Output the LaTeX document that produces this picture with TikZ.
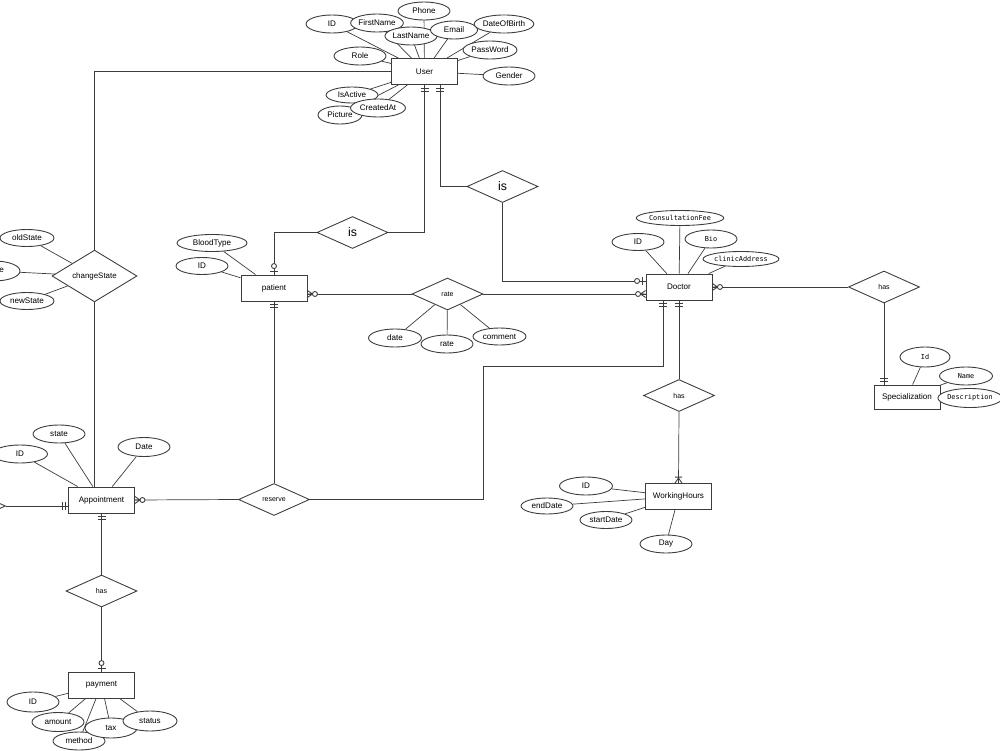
\documentclass[tikz,border=0pt]{standalone}
\usepackage{fontspec}
\setmainfont{Liberation Sans}
\newfontfamily\codefont{DejaVu Sans Mono}
\usepackage{xcolor}
\usetikzlibrary{shapes.geometric, positioning, backgrounds, calc}
\definecolor{linegray}{RGB}{60,60,60}

\tikzset{
  twobar/.pic={\draw[linegray] (-3,-4) -- (-3,4) (-6,-4) -- (-6,4);},
  zeroone/.pic={\draw[linegray] (-3.5,-4) -- (-3.5,4); \draw[linegray, fill=white] (-8.5,0) circle[radius=0.5mm];},
  zeromany/.pic={\draw[linegray] (0,-3.5) -- (-5,0) -- (0,3.5) (0,0) -- (-5,0); \draw[linegray, fill=white] (-7.5,0) circle[radius=0.5mm];},
  onemany/.pic={\draw[linegray] (0,-3.5) -- (-5,0) -- (0,3.5) (0,0) -- (-5,0) (-6,-3.5) -- (-6,3.5);}
}

\begin{document}
\begin{tikzpicture}[
    x=0.2mm, y=-0.2mm, line width=0.5pt,
    ent/.style={rectangle, draw=linegray, fill=white, minimum width=13.2mm, minimum height=5.2mm, inner sep=0pt, font=\fontsize{4.6}{5}\selectfont},
    attr/.style={ellipse, draw=linegray, fill=white, minimum width=10.4mm, minimum height=3.6mm, inner sep=0pt, font=\fontsize{4.6}{5}\selectfont},
    mono/.style={attr, font=\codefont\fontsize{3.9}{4.5}\selectfont},
    rel/.style={diamond, draw=linegray, fill=white, minimum width=14.2mm, minimum height=6.4mm, inner sep=0pt, font=\fontsize{4}{5}\selectfont},
    isrel/.style={rel, font=\fontsize{7}{8}\selectfont},
    conn/.style={draw=linegray}
]
\useasboundingbox (0,0) rectangle (1000,750);
\clip (0,0) rectangle (1000,750);

\node[ent] (user) at (424.5,71.5) {User};
\node[ent] (pat) at (274,288) {patient};
\node[ent] (doc) at (679,287) {Doctor};
\node[ent, minimum height=4.8mm] (spec) at (907,397) {Specialization};
\node[ent] (wh) at (678.5,496.5) {WorkingHours};
\node[ent] (appt) at (101.5,500) {Appointment};
\node[ent] (pay) at (101.5,685) {payment};

\node[isrel] (is1) at (352.5,232.5) {is};
\node[isrel] (is2) at (502.5,186.5) {is};
\node[rel] (rate) at (447.5,294) {rate};
\node[rel] (has1) at (884,287) {has};
\node[rel] (has2) at (679,395.5) {has};
\node[rel] (res) at (274,499.5) {reserve};
\node[rel, minimum width=17mm, minimum height=7.2mm, font=\fontsize{4.5}{5}\selectfont] (chg) at (94.5,276) {changeState};
\node[rel] (has3) at (101.5,591) {has};
\node[rel] (ext) at (-30,506) {};

\node[attr] (phone) at (424,11) {Phone};
\node[attr] (uid) at (332,24) {ID};
\node[attr] (ufn) at (377,23) {FirstName};
\node[attr] (uln) at (411,36) {LastName};
\node[attr, minimum width=9.4mm] (uem) at (454,30) {Email};
\node[attr] (udob) at (504,24) {DateOfBirth};
\node[attr, minimum width=10.8mm] (upw) at (490,50) {PassWord};
\node[attr] (urole) at (360,56) {Role};
\node[attr] (ugen) at (509,76) {Gender};
\node[attr, minimum width=8.8mm] (upic) at (340,115) {Picture};
\node[attr, minimum height=3.2mm] (uact) at (352,95) {IsActive};
\node[attr, minimum width=11mm] (ucrt) at (378,108) {CreatedAt};

\node[attr, minimum width=14mm, minimum height=3.4mm] (pbt) at (212,243) {BloodType};
\node[attr, minimum height=3.4mm] (pid) at (202,266) {ID};

\node[attr, minimum width=10.6mm] (rdate) at (395,338) {date};
\node[attr] (rrate) at (447,344) {rate};
\node[attr, minimum width=10.6mm, minimum height=3.4mm] (rcom) at (499.5,336.5) {comment};

\node[attr, minimum height=3.4mm] (did) at (638,242) {ID};
\node[mono, minimum width=14mm, minimum height=3mm] (dfee) at (680,218) {ConsultationFee};
\node[mono] (dbio) at (711,239) {Bio};
\node[mono, minimum width=14.4mm, minimum height=3mm] (daddr) at (741,259) {clinicAddress};

\node[mono, minimum width=10mm, minimum height=4mm] (sid) at (925,357) {Id};
\node[mono, minimum width=10.6mm] (sname) at (966,376) {Name};
\node[mono, minimum width=11.2mm, minimum height=3.8mm] (sdesc) at (970,398) {Description};

\node[attr, minimum width=10.6mm] (wid) at (586,486) {ID};
\node[attr, minimum height=3.2mm] (wend) at (547,506) {endDate};
\node[attr, minimum height=3.4mm] (wstart) at (606,520) {startDate};
\node[attr] (wday) at (666,544) {Day};

\node[attr, minimum width=11mm] (aid) at (20,454) {ID};
\node[attr] (ast) at (59,434) {state};
\node[attr, minimum height=3.8mm] (adate) at (144,447) {Date};

\node[attr, minimum width=10.8mm, minimum height=3.4mm] (cold) at (27,238) {oldState};
\node[attr, minimum height=4mm] (cpart) at (-6,271) {};
\node[font=\fontsize{4.6}{5}\selectfont] (cparttxt) at (1.5,270) {e};
\node[attr, minimum width=10.8mm, minimum height=3.4mm] (cnew) at (27,301) {newState};

\node[attr, minimum height=4mm] (ppid) at (33,702) {ID};
\node[attr, minimum height=3.8mm] (pamt) at (58,722) {amount};
\node[attr] (pmeth) at (79,741) {method};
\node[attr, minimum height=4mm] (ptax) at (111,728) {tax};
\node[attr, minimum width=10.8mm, minimum height=4mm] (pst) at (150,721) {status};

\coordinate (bend) at (483,366);

\begin{scope}[on background layer]
\draw[conn] (user.west) -| (chg.north);
\draw[conn] (chg.south) -- (chg.south |- appt.north);
\draw[conn] (user.south) |- (is1.east);
\draw[conn] (is1.west) -| (pat.north);
\draw[conn] ([xshift=3.1mm]user.south) |- (is2.west);
\draw[conn] (is2.south) |- ([yshift=1.2mm]doc.west);
\draw[conn] (rate.west) -- (rate.west -| pat.east);
\draw[conn] (rate.east) -- (rate.east -| doc.west);
\draw[conn] (doc.east) -- (has1.west);
\draw[conn] (has1.south) -- (has1.south |- spec.north);
\draw[conn] ([xshift=-3.2mm]doc.south) |- (bend) |- (res.east);
\draw[conn] (doc.south) -- (has2.north);
\draw[conn] (has2.south) -- (wh.north);
\draw[conn] (pat.south) -- (res.north);
\draw[conn] (res.west) -- (appt.east);
\draw[conn] (ext.east) -- (ext.east -| appt.west);
\draw[conn] (appt.south) -- (has3.north);
\draw[conn] (has3.south) -- (pay.north);

\draw[conn] (phone) -- (user) (uid) -- (user) (ufn) -- (user) (uln) -- (user)
  (uem) -- (user) (udob) -- (user) (upw) -- (user) (urole) -- (user)
  (ugen) -- (user) (upic) -- (user) (uact) -- (user) (ucrt) -- (user);
\draw[conn] (pbt) -- (pat) (pid) -- (pat);
\draw[conn] (rdate) -- (rate) (rrate) -- (rate) (rcom) -- (rate);
\draw[conn] (did) -- (doc) (dfee) -- (doc) (dbio) -- (doc) (daddr) -- (doc);
\draw[conn] (sid) -- (spec) (sname) -- (spec) (sdesc) -- (spec);
\draw[conn] (wid) -- (wh) (wend) -- (wh) (wstart) -- (wh) (wday) -- (wh);
\draw[conn] (aid) -- (appt) (ast) -- (appt) (adate) -- (appt);
\draw[conn] (cold) -- (chg) (cpart) -- (chg) (cnew) -- (chg);
\draw[conn] (ppid) -- (pay) (pamt) -- (pay) (pmeth) -- (pay) (ptax) -- (pay) (pst) -- (pay);
\end{scope}

\pic[rotate=90] at (user.south) {twobar};
\pic[rotate=90] at ([xshift=3.1mm]user.south) {twobar};
\pic[rotate=-90] at (pat.north) {zeroone};
\pic[rotate=90] at (pat.south) {twobar};
\pic[rotate=180] at (rate.west -| pat.east) {zeromany};
\pic at ([yshift=1.2mm]doc.west) {zeroone};
\pic at (rate.east -| doc.west) {zeromany};
\pic[rotate=180] at (doc.east) {zeromany};
\pic[rotate=90] at ([xshift=-3.2mm]doc.south) {twobar};
\pic[rotate=90] at (doc.south) {twobar};
\pic[rotate=-90] at (has1.south |- spec.north) {twobar};
\pic[rotate=-90] at (wh.north) {onemany};
\pic[rotate=180] at (appt.east) {zeromany};
\pic at (ext.east -| appt.west) {twobar};
\pic[rotate=90] at (appt.south) {twobar};
\pic[rotate=-90] at (pay.north) {zeroone};
\end{tikzpicture}
\end{document}
